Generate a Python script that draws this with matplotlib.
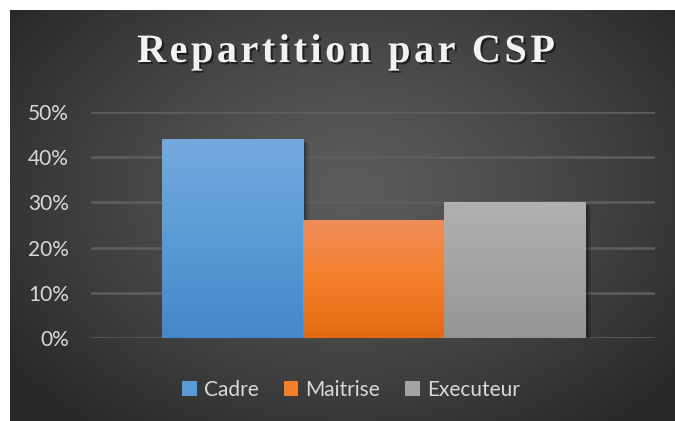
import numpy as np
import matplotlib
matplotlib.use('Agg')
from matplotlib import pyplot as plt
from matplotlib import patheffects as pe
from matplotlib.patches import Patch
from matplotlib.font_manager import FontProperties

# data
categories = ['Cadre', 'Maitrise', 'Executeur']
values = [0.44, 0.26, 0.30]
yticks = [0, 0.1, 0.2, 0.3, 0.4, 0.5]
ytick_labels = ['0%', '10%', '20%', '30%', '40%', '50%']
title = 'Repartition par CSP'

# top / bottom colours of each bar gradient, and legend swatches
grad_top = ['#74a9dd', '#f08d5a', '#b1b1b1']
grad_mid = ['#5b9bd5', '#f47f2a', '#a4a4a4']
grad_bot = ['#4488c8', '#e36a14', '#959595']

W, H = 675, 421
fig = plt.figure(figsize=(W / 100, H / 100), dpi=100, facecolor='white')

# dark panel with radial gradient
bg = fig.add_axes([10 / W, 0, (W - 10) / W, (H - 10) / H], zorder=0)
bg.set_axis_off()
gx, gy = np.meshgrid(np.linspace(10, W, 400), np.linspace(10, H, 260))
r = np.sqrt(((gx - 350) / 420) ** 2 + ((gy - 190) / 300) ** 2)
r = np.clip(r, 0, 1)
shade = 0x5b / 255 + (0x29 / 255 - 0x5b / 255) * r ** 1.3
bg.imshow(np.dstack([shade] * 3), aspect='auto', extent=(0, 1, 0, 1), origin='upper')
bg.set_xlim(0, 1)
bg.set_ylim(0, 1)

ax = fig.add_axes([91 / W, (H - 338) / H, 564 / W, 226 / H], zorder=1)
ax.patch.set_alpha(0)

x = np.arange(len(categories))
bars = ax.bar(x, values, width=1.0, color=grad_mid, zorder=2)
for b, top, mid, bot in zip(bars, grad_top, grad_mid, grad_bot):
    b.set_path_effects([pe.SimplePatchShadow(offset=(2, -2), shadow_rgbFace='black', alpha=0.28),
                        pe.SimplePatchShadow(offset=(4, -3), shadow_rgbFace='black', alpha=0.12),
                        pe.Normal()])
    cmap = matplotlib.colors.LinearSegmentedColormap.from_list('g', [bot, mid, top])
    x0 = b.get_x()
    im = ax.imshow(np.linspace(0, 1, 100).reshape(-1, 1), cmap=cmap, aspect='auto',
                   origin='lower', extent=(x0, x0 + b.get_width(), 0, b.get_height()),
                   zorder=3)
    im.set_clip_path(b)

ax.set_xlim(-1.0, 2.99)
ax.set_ylim(0, 0.5)
ax.set_yticks(yticks)
ax.set_yticklabels(ytick_labels)
ax.set_xticks([])
ax.yaxis.grid(True, color='#5e5e5e', linewidth=1.8, zorder=1)
ax.set_axisbelow(True)
for s in ax.spines.values():
    s.set_visible(False)
ax.tick_params(axis='y', length=0, pad=16, labelsize=15, labelcolor='#d9d9d9')
for lbl in ax.get_yticklabels():
    lbl.set_family(['Lato', 'DejaVu Sans'])

handles = [Patch(facecolor=c, edgecolor='none') for c in grad_mid]
fig.legend(handles, categories, loc='center', bbox_to_anchor=(351 / W, 1 - 390 / H),
           ncol=3, frameon=False, handlelength=0.7, handleheight=0.7,
           handletextpad=0.35, columnspacing=1.2,
           prop=FontProperties(family=['Lato', 'DejaVu Sans'], size=15),
           labelcolor='#d9d9d9')

# title with letter spacing, drawn char by char
fp = FontProperties(family='Liberation Serif', weight='bold', size=29)
renderer = fig.canvas.get_renderer()
bar_w = renderer.get_text_width_height_descent('|', fp, ismath=False)[0]
def prefix_w(s):
    return renderer.get_text_width_height_descent(s + '|', fp, ismath=False)[0] - bar_w
spacing = 3.5
total = prefix_w(title) + spacing * (len(title) - 1)
x_start = 346 - total / 2
for i, ch in enumerate(title):
    if ch == ' ':
        continue
    px = x_start + prefix_w(title[:i]) + spacing * i
    fig.text(px / W, 1 - 62 / H, ch, fontproperties=fp, color='#f2f2f2',
             ha='left', va='baseline',
             path_effects=[pe.withSimplePatchShadow(offset=(1.5, -1.5), shadow_rgbFace='black', alpha=0.55)])

fig.savefig('out.png', dpi=100, facecolor='white')
